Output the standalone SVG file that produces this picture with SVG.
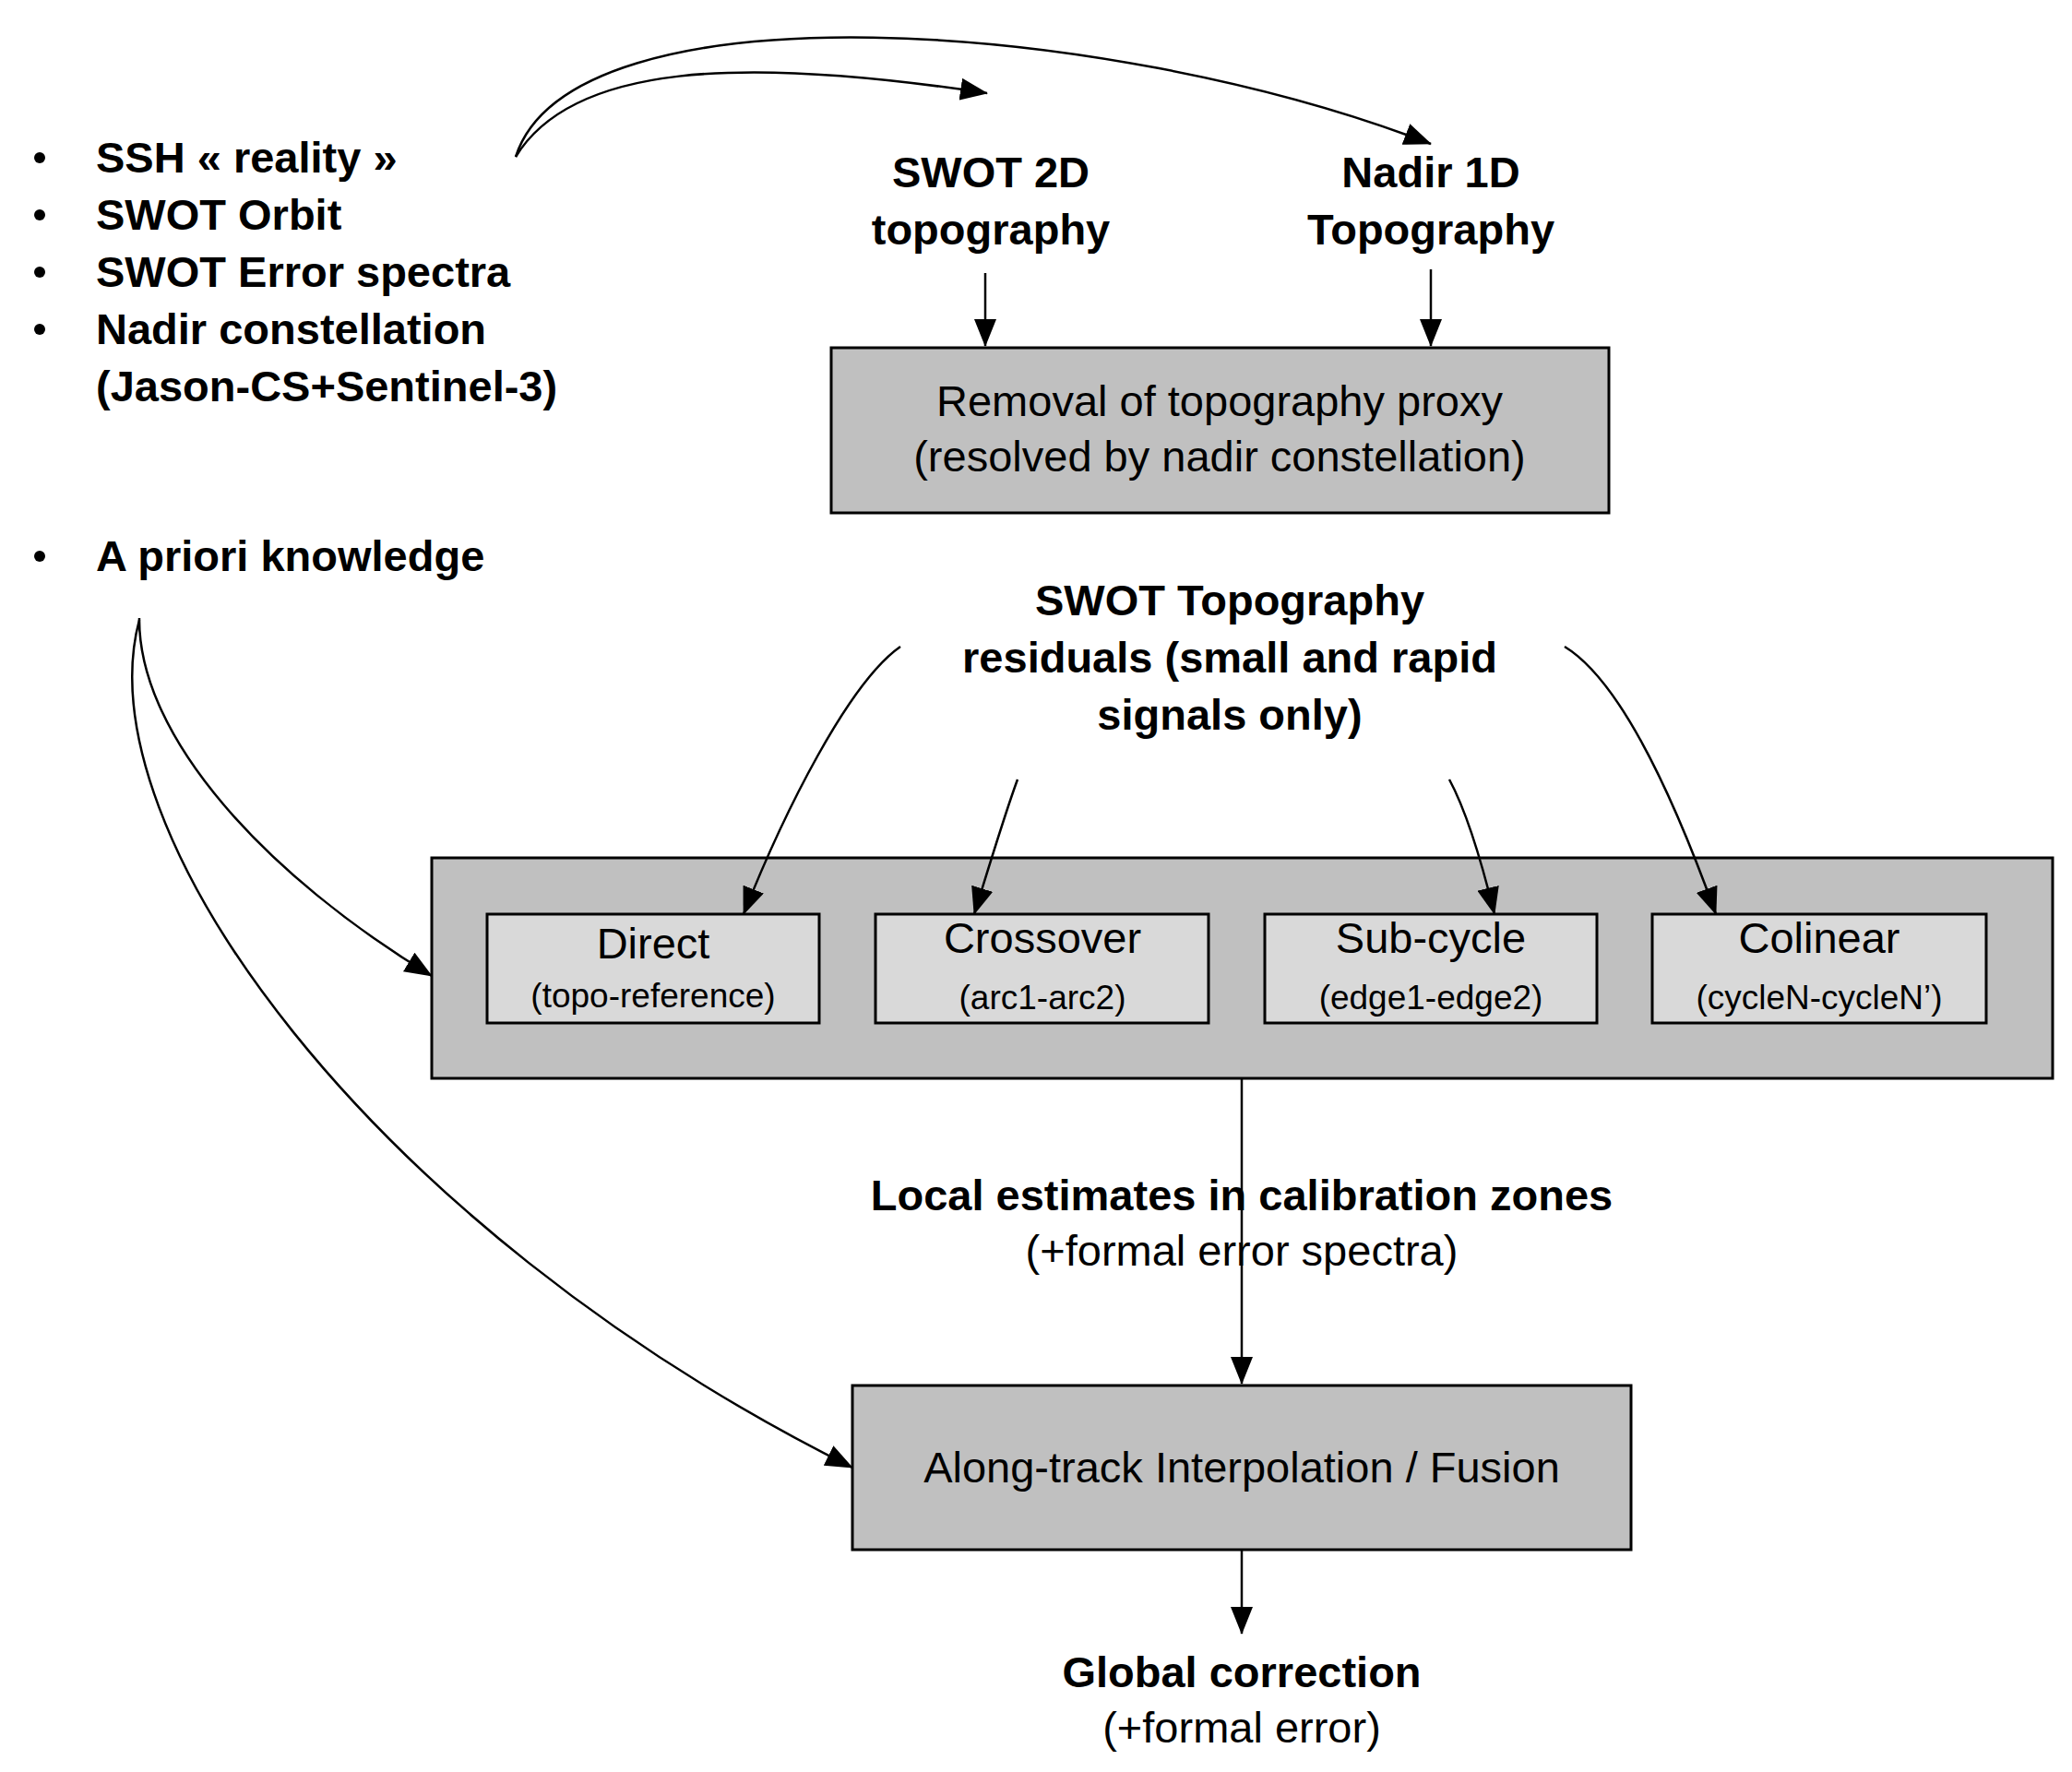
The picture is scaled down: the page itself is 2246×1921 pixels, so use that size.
<svg xmlns="http://www.w3.org/2000/svg" width="2246" height="1921" viewBox="0 0 2246 1921">
<style>
.b{font-family:"Liberation Sans",Arial,sans-serif;font-weight:bold;font-size:47px;fill:#000}
.r{font-family:"Liberation Sans",Arial,sans-serif;font-size:47px;fill:#000}
.s{font-family:"Liberation Sans",Arial,sans-serif;font-size:37px;fill:#000}
.m{text-anchor:middle}
.box{fill:#c0c0c0;stroke:#000;stroke-width:3}
.ibox{fill:#d9d9d9;stroke:#000;stroke-width:3}
.c{fill:none;stroke:#000;stroke-width:2.5}
</style>
<defs><marker id="a" markerWidth="12" markerHeight="10" refX="11" refY="5" orient="auto" markerUnits="userSpaceOnUse" viewBox="0 0 12 10"><path d="M0,0 L12,5 L0,10 z" fill="#000"/></marker>
<marker id="A" viewBox="0 0 30 24" refX="29" refY="12" markerWidth="30" markerHeight="24" orient="auto" markerUnits="userSpaceOnUse"><path d="M0,0 L30,12 L0,24 z" fill="#000"/></marker></defs>
<g id="inputs">
<g class="b"><circle cx="43" cy="171" r="6"/><circle cx="43" cy="233" r="6"/><circle cx="43" cy="295" r="6"/><circle cx="43" cy="357" r="6"/><circle cx="43" cy="603" r="6"/></g>
<text class="b" x="104" y="187">SSH « reality »</text>
<text class="b" x="104" y="249">SWOT Orbit</text>
<text class="b" x="104" y="311">SWOT Error spectra</text>
<text class="b" x="104" y="373">Nadir constellation</text>
<text class="b" x="104" y="435">(Jason-CS+Sentinel-3)</text>
<text class="b" x="104" y="619">A priori knowledge</text>
</g>
<g id="swot2d"><text class="b m" x="1074" y="203">SWOT 2D</text><text class="b m" x="1074" y="265">topography</text></g>
<g id="nadir1d"><text class="b m" x="1551" y="203">Nadir 1D</text><text class="b m" x="1551" y="265">Topography</text></g>
<g id="removal"><rect class="box" x="901" y="377" width="843" height="179"/><text class="r m" x="1322" y="451">Removal of topography proxy</text><text class="r m" x="1322" y="511">(resolved by nadir constellation)</text></g>
<g id="residuals"><text class="b m" x="1333" y="667">SWOT Topography</text><text class="b m" x="1333" y="729">residuals (small and rapid</text><text class="b m" x="1333" y="791">signals only)</text></g>
<g id="methods"><rect class="box" x="468" y="930" width="1757" height="239"/></g>
<g id="direct"><rect class="ibox" x="528" y="991" width="360" height="118"/><text class="r m" x="708" y="1039">Direct</text><text class="s m" x="708" y="1092">(topo-reference)</text></g>
<g id="crossover"><rect class="ibox" x="949" y="991" width="361" height="118"/><text class="r m" x="1130" y="1033">Crossover</text><text class="s m" x="1130" y="1094">(arc1-arc2)</text></g>
<g id="subcycle"><rect class="ibox" x="1371" y="991" width="360" height="118"/><text class="r m" x="1551" y="1033">Sub-cycle</text><text class="s m" x="1551" y="1094">(edge1-edge2)</text></g>
<g id="colinear"><rect class="ibox" x="1791" y="991" width="362" height="118"/><text class="r m" x="1972" y="1033">Colinear</text><text class="s m" x="1972" y="1094">(cycleN-cycleN’)</text></g>
<g id="local"><text class="b m" x="1346" y="1312">Local estimates in calibration zones</text><text class="r m" x="1346" y="1372">(+formal error spectra)</text></g>
<g id="fusion"><rect class="box" x="924" y="1502" width="844" height="178"/><text class="r m" x="1346" y="1607">Along-track Interpolation / Fusion</text></g>
<g id="global"><text class="b m" x="1346" y="1829">Global correction</text><text class="r m" x="1346" y="1889">(+formal error)</text></g>
<g id="connectors">
<path class="c" marker-end="url(#A)" d="M559,170 C620,70 800,60 1070,101"/>
<path class="c" marker-end="url(#A)" d="M559,170 C620,-20 1200,20 1551,156"/>
<path class="c" marker-end="url(#A)" d="M1068,296 L1068,375"/>
<path class="c" marker-end="url(#A)" d="M1551,292 L1551,375"/>
<path class="c" marker-end="url(#A)" d="M976,701 C920,740 850,880 806,991"/>
<path class="c" marker-end="url(#A)" d="M1103,845 C1090,880 1075,930 1056,991"/>
<path class="c" marker-end="url(#A)" d="M1571,845 C1590,880 1605,930 1620,991"/>
<path class="c" marker-end="url(#A)" d="M1696,701 C1760,740 1820,880 1860,991"/>
<path class="c" marker-end="url(#A)" d="M1346,1169 L1346,1500"/>
<path class="c" marker-end="url(#A)" d="M1346,1680 L1346,1771"/>
<path class="c" marker-end="url(#A)" d="M151,670 C150,800 290,950 468,1058"/>
<path class="c" marker-end="url(#A)" d="M151,672 C90,900 400,1330 924,1591"/>
</g>
</svg>
